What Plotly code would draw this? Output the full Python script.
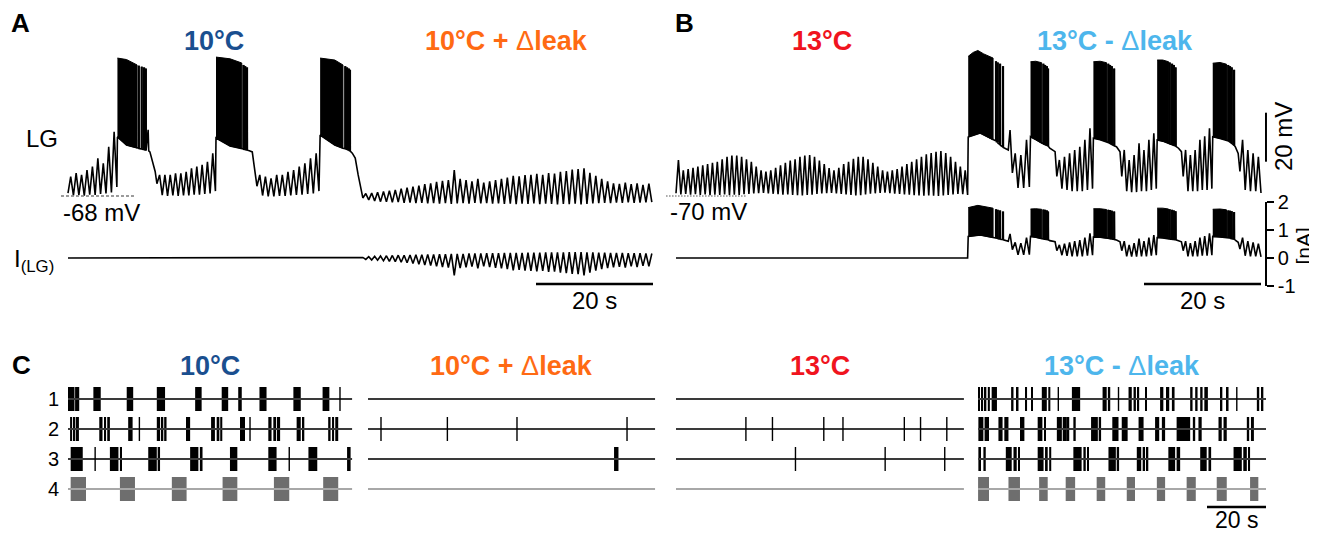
import plotly.graph_objects as go

# ============================ DATA ============================
# ---- Panel A : LG membrane potential (mV) vs time (s) ----
A_CONDITIONS = ["10°C", "10°C + Δleak"]
A_COND_COLORS = ["#1a4f8f", "#ff6a13"]
A_REST_MV = -68
A_OSC_SPANS = [(0.0, 8.35), (15.2, 25.2), (32.3, 42.9), (50.4, 99.8)]
A_OSC_PEAKS = [
    [-60.1, -58.7, -59.4, -57.4, -56.0, -52.6, -54.7, -47.9, -41.8],
    [-59.4, -59.4, -59.4, -58.7, -58.7, -58.1, -56.7, -56.0, -55.3, -54.0, -50.6],
    [-59.4, -60.1, -60.8, -59.4, -59.4, -58.1, -57.4, -56.0, -54.7, -52.6, -50.6],
    [-67.0, -66.8, -66.5, -66.2, -65.8, -65.5, -65.0, -64.6, -64.2, -63.8,
     -63.2, -62.8, -62.2, -61.8, -61.5, -57.4, -61.0, -61.5, -62.0, -61.0,
     -62.5, -62.0, -61.5, -61.0, -60.5, -59.8, -60.0, -59.5, -59.4, -59.0,
     -59.4, -58.6, -58.8, -58.1, -57.8, -57.2, -57.0, -56.7, -58.5, -59.8,
     -61.0, -62.0, -62.8, -63.0, -62.5, -63.2, -62.8, -63.5, -63.0],
]
A_OSC_TROUGHS = [
    [-66.8, -67.8, -67.6, -67.9, -67.5, -67.6, -67.2, -67.0, -66.6, -64.3],
    [-63.0, -67.6, -68.0, -67.8, -68.0, -67.8, -67.8, -67.5, -67.5, -67.2, -67.0, -66.0],
    [-64.0, -67.8, -68.2, -68.2, -68.0, -68.0, -67.8, -67.6, -67.5, -67.2, -67.0, -66.0],
    [-68.8, -69.6, -70.0, -70.3, -70.4, -70.6, -70.5, -70.8, -70.7, -70.9,
     -70.8, -71.0, -70.9, -71.1, -70.9, -71.2, -71.0, -70.9, -71.1, -70.8,
     -71.0, -70.9, -71.1, -71.0, -71.2, -71.1, -71.3, -71.1, -71.2, -71.0,
     -71.3, -71.1, -71.2, -71.4, -71.2, -71.3, -71.1, -71.4, -71.2, -71.0,
     -70.9, -70.8, -70.9, -70.7, -70.8, -70.6, -70.8, -70.7, -70.6, -70.5],
]
# spike-peak envelope of the dense part of each burst (t, mV)
A_BURST_TOP = [
    [(8.45, -11.7), (10.0, -12.3), (11.8, -14.5)],
    [(25.3, -11.3), (27.7, -12.0), (29.7, -13.7)],
    [(43.1, -11.7), (45.6, -12.5), (47.0, -14.5)],
]
# plateau, last single spikes and repolarisation of each burst (t, mV)
A_BURST_BASE = [
    [(8.45, -43.9), (10.0, -47.2), (11.8, -48.4), (12.1, -48.5), (12.1, -14.8), (12.15, -48.6),
     (12.6, -48.8), (12.6, -15.2), (12.65, -48.9), (13.0, -49.0), (13.0, -15.5), (13.05, -49.1),
     (13.3, -49.2), (13.3, -16.0), (13.35, -49.3), (13.7, -41.0), (13.8, -49.6), (14.0, -50.0),
     (14.5, -54.0), (14.9, -58.0)],
    [(25.3, -44.3), (27.7, -47.6), (29.7, -48.6), (30.0, -48.8), (30.0, -14.5), (30.05, -48.9),
     (30.3, -49.0), (30.3, -15.0), (30.35, -49.1), (30.6, -49.2), (30.6, -15.5), (30.65, -49.3),
     (31.0, -49.5), (31.5, -50.0), (31.8, -55.3), (32.1, -60.0)],
    [(43.1, -43.1), (45.6, -47.2), (47.0, -48.5), (47.4, -48.7), (47.4, -15.0), (47.45, -48.8),
     (47.7, -49.0), (47.7, -15.5), (47.75, -49.1), (48.0, -49.3), (48.0, -16.0), (48.05, -49.4),
     (48.2, -49.6), (48.2, -16.5), (48.25, -49.7), (48.6, -50.5), (49.1, -52.5), (49.6, -59.4),
     (50.1, -66.4)],
]
# ---- Panel A : injected current I(LG) (nA) ----
A_I_BASELINE = [(0.0, 0.0), (50.3, 0.0)]
A_I_OSC_LOW = [
    -0.05, -0.07, -0.08, -0.10, -0.12, -0.13, -0.15, -0.17, -0.20, -0.22,
    -0.25, -0.27, -0.30, -0.32, -0.34, -0.62, -0.36, -0.33, -0.31, -0.37,
    -0.30, -0.32, -0.35, -0.37, -0.40, -0.44, -0.42, -0.45, -0.46, -0.48,
    -0.46, -0.50, -0.49, -0.52, -0.54, -0.57, -0.58, -0.62, -0.52, -0.45,
    -0.40, -0.36, -0.33, -0.32, -0.34, -0.30, -0.32, -0.28, -0.30]
A_I_OSC_HIGH = [
    0.02, 0.05, 0.06, 0.07, 0.08, 0.09, 0.10, 0.10, 0.11, 0.12,
    0.12, 0.13, 0.13, 0.14, 0.14, 0.15, 0.15, 0.15, 0.16, 0.16,
    0.16, 0.17, 0.17, 0.17, 0.18, 0.18, 0.18, 0.18, 0.19, 0.19,
    0.19, 0.20, 0.20, 0.20, 0.20, 0.21, 0.21, 0.21, 0.20, 0.20,
    0.19, 0.19, 0.18, 0.18, 0.18, 0.17, 0.17, 0.17, 0.16, 0.16]

# ---- Panel B : LG membrane potential (mV); 13 °C then 13 °C - Δleak ----
B_CONDITIONS = ["13°C", "13°C - Δleak"]
B_COND_COLORS = ["#f0141e", "#4db6ec"]
B_REST_MV = -70
B_OSC_SPANS = [(0.0, 49.85), (57.5, 60.4), (65.1, 71.2), (76.2, 82.1), (86.7, 91.6), (96.4, 100.0)]
B_OSC_PEAKS = [
    [-55.3, -59.5, -59.0, -58.5, -58.0, -57.5, -57.0, -56.5, -56.0, -55.0,
     -54.0, -53.5, -53.5, -54.0, -55.0, -56.0, -58.0, -59.5, -60.0, -59.5,
     -58.5, -57.5, -56.5, -55.5, -55.0, -54.0, -53.5, -53.3, -54.0, -55.5,
     -57.0, -58.6, -59.5, -58.5, -57.0, -56.0, -54.8, -54.0, -54.0, -55.0,
     -56.5, -58.0, -59.5, -60.0, -59.5, -59.0, -58.0, -57.0, -56.0, -55.0,
     -54.0, -53.0, -52.5, -52.0, -51.6, -52.5, -54.0, -56.0, -58.0, -59.5],
    [-52.6, -53.3, -47.1],
    [-55.3, -54.0, -52.6, -51.2, -49.9, -47.1, -42.4],
    [-51.2, -55.3, -53.3, -48.5, -51.2, -47.1, -44.4],
    [-51.2, -53.3, -51.2, -47.1, -45.6, -42.4],
    [-47.1, -51.2, -52.6, -54.0],
]
B_OSC_TROUGHS = [
    [-68.9, -69.4, -69.2, -69.5, -69.3, -69.6, -69.4, -69.7, -69.5, -69.6,
     -69.4, -69.7, -69.5, -69.6, -69.3, -69.2, -69.0, -68.8, -68.7, -68.9,
     -69.1, -69.3, -69.5, -69.4, -69.6, -69.7, -69.8, -69.6, -69.5, -69.2,
     -69.0, -68.8, -68.7, -68.9, -69.2, -69.4, -69.6, -69.8, -69.7, -69.4,
     -69.1, -68.9, -68.7, -68.6, -68.8, -69.0, -69.2, -69.4, -69.5, -69.7,
     -69.8, -69.9, -69.8, -69.9, -70.0, -69.8, -69.6, -69.4, -69.2, -69.3, -69.6],
    [-60.6, -66.7, -66.7, -66.3],
    [-62.0, -67.0, -67.5, -68.0, -68.0, -68.0, -67.5, -67.0],
    [-62.0, -68.0, -68.4, -68.4, -68.0, -68.0, -67.5, -67.0],
    [-62.0, -68.0, -68.0, -68.0, -67.5, -67.5, -67.0],
    [-60.0, -67.5, -68.0, -68.0, -68.8],
]
B_BURST_TOP = [
    [(49.95, -13.0), (50.8, -11.4), (51.6, -10.6), (52.6, -12.0), (54.2, -13.7)],
    [(60.6, -15.2), (61.5, -15.0), (62.5, -15.6)],
    [(71.35, -15.2), (72.5, -15.0), (73.6, -15.6)],
    [(82.25, -14.5), (83.2, -14.5), (84.2, -15.2)],
    [(91.75, -15.8), (93.0, -15.5), (94.1, -16.2)],
]
B_BURST_BASE = [
    [(49.95, -45.9), (52.0, -44.3), (54.2, -47.1), (54.7, -47.5), (54.7, -15.0), (54.75, -47.8),
     (55.0, -48.0), (55.0, -15.5), (55.05, -48.5), (55.4, -49.0), (55.4, -16.0), (55.45, -49.3),
     (55.9, -50.0), (55.9, -17.0), (55.95, -50.2), (56.8, -51.2), (57.1, -43.1)],
    [(60.6, -45.8), (61.5, -47.0), (62.5, -48.5), (62.8, -48.7), (62.8, -16.0), (62.85, -48.8),
     (63.1, -49.0), (63.1, -16.5), (63.15, -49.1), (63.4, -49.3), (63.4, -17.0), (63.45, -49.4),
     (63.6, -49.6), (63.6, -18.0), (63.65, -49.7), (63.9, -50.5), (64.8, -51.9)],
    [(71.35, -46.4), (72.5, -47.0), (73.6, -47.8), (73.9, -48.2), (73.9, -16.0), (73.95, -48.3),
     (74.2, -48.6), (74.2, -16.5), (74.25, -48.7), (74.5, -49.0), (74.5, -17.0), (74.55, -49.1),
     (74.9, -49.5), (74.9, -18.0), (74.95, -49.6), (75.3, -49.9), (75.9, -51.9)],
    [(82.25, -47.1), (83.2, -47.6), (84.2, -48.5), (84.4, -48.7), (84.4, -15.5), (84.45, -48.8),
     (84.8, -49.0), (84.8, -16.0), (84.85, -49.1), (85.1, -49.3), (85.1, -16.5), (85.15, -49.4),
     (85.4, -49.6), (85.4, -17.5), (85.45, -49.7), (85.9, -50.5), (86.4, -51.9)],
    [(91.75, -45.8), (93.0, -46.5), (94.1, -47.1), (94.4, -47.5), (94.4, -16.5), (94.45, -47.6),
     (94.7, -48.0), (94.7, -17.0), (94.75, -48.1), (95.0, -48.5), (95.0, -17.5), (95.05, -48.6),
     (95.4, -49.3), (95.4, -18.5), (95.45, -49.4), (95.6, -49.9), (96.1, -52.6)],
]
# ---- Panel B : injected current I(LG) (nA) ----
B_I_BASELINE = [(0.0, 0.0), (49.85, 0.0)]
B_I_BURST_TOP = [
    [(49.95, 1.80), (51.6, 1.88), (54.2, 1.78)],
    [(60.6, 1.75), (61.5, 1.76), (62.5, 1.74)],
    [(71.35, 1.76), (72.5, 1.76), (73.6, 1.73)],
    [(82.25, 1.78), (83.2, 1.78), (84.2, 1.75)],
    [(91.75, 1.74), (93.0, 1.75), (94.1, 1.72)],
]
B_I_BURST_BASE = [
    [(49.95, 0.77), (52.0, 0.82), (54.2, 0.73), (54.7, 0.71), (54.7, 1.74), (54.75, 0.71),
     (55.0, 0.70), (55.0, 1.72), (55.05, 0.69), (55.4, 0.68), (55.4, 1.70), (55.45, 0.67),
     (55.9, 0.66), (55.9, 1.66), (55.95, 0.65), (56.8, 0.60), (57.1, 0.86)],
    [(60.6, 0.77), (61.5, 0.74), (62.5, 0.69), (62.8, 0.68), (62.8, 1.73), (62.85, 0.68),
     (63.1, 0.67), (63.1, 1.72), (63.15, 0.67), (63.4, 0.66), (63.4, 1.70), (63.45, 0.66),
     (63.6, 0.65), (63.6, 1.66), (63.65, 0.65), (63.9, 0.62), (64.8, 0.58)],
    [(71.35, 0.75), (72.5, 0.74), (73.6, 0.71), (73.9, 0.70), (73.9, 1.72), (73.95, 0.70),
     (74.2, 0.69), (74.2, 1.71), (74.25, 0.69), (74.5, 0.68), (74.5, 1.69), (74.55, 0.68),
     (74.9, 0.66), (74.9, 1.66), (74.95, 0.66), (75.3, 0.64), (75.9, 0.58)],
    [(82.25, 0.73), (83.2, 0.72), (84.2, 0.69), (84.4, 0.68), (84.4, 1.74), (84.45, 0.68),
     (84.8, 0.67), (84.8, 1.72), (84.85, 0.67), (85.1, 0.66), (85.1, 1.70), (85.15, 0.66),
     (85.4, 0.65), (85.4, 1.67), (85.45, 0.65), (85.9, 0.62), (86.4, 0.58)],
    [(91.75, 0.77), (93.0, 0.75), (94.1, 0.73), (94.4, 0.72), (94.4, 1.70), (94.45, 0.72),
     (94.7, 0.71), (94.7, 1.69), (94.75, 0.70), (95.0, 0.69), (95.0, 1.67), (95.05, 0.69),
     (95.4, 0.67), (95.4, 1.64), (95.45, 0.67), (95.6, 0.64), (96.1, 0.56)],
]
B_I_OSC_PEAKS = [
    [0.56, 0.53, 0.73],
    [0.47, 0.51, 0.56, 0.60, 0.64, 0.73, 0.88],
    [0.60, 0.47, 0.53, 0.69, 0.60, 0.73, 0.82],
    [0.60, 0.53, 0.60, 0.73, 0.78, 0.88],
    [0.73, 0.60, 0.56, 0.51],
]
B_I_OSC_TROUGHS = [
    [0.30, 0.11, 0.11, 0.12],
    [0.26, 0.10, 0.08, 0.06, 0.06, 0.06, 0.08, 0.10],
    [0.26, 0.06, 0.05, 0.05, 0.06, 0.06, 0.08, 0.10],
    [0.26, 0.06, 0.06, 0.06, 0.08, 0.08, 0.10],
    [0.32, 0.08, 0.06, 0.06, 0.04],
]
I_TICKS = [-1, 0, 1, 2]
I_TICK_LABELS = ["-1", "0", "1", "2"]

# ---- Panel C : spike rasters of neurons 1-4 (time in s from the start of each recording) ----
C_CONDITIONS = ["10°C", "10°C + Δleak", "13°C", "13°C - Δleak"]
C_COND_COLORS = ["#1a4f8f", "#ff6a13", "#f0141e", "#4db6ec"]
C_ROW_LABELS = ["1", "2", "3", "4"]
C_SEG_T0 = [0.0, 101.7, 206.1, 308.5]
C_SEG_DUR = [96.3, 97.3, 97.6, 97.6]
C_BURSTS_10C = [
    [[0.0, 2.2], [2.4, 3.8], [8.6, 11.1], [19.9, 22.1], [30.1, 32.9], [43.1, 45.3], [52.1, 54.3],
     [57.7, 58.9], [64.9, 67.3], [76.4, 78.9], [86.3, 88.6]],
    [[0.7, 1.4], [1.7, 2.3], [2.6, 3.7], [10.6, 11.7], [12.2, 12.9], [13.3, 14.2], [20.4, 21.9],
     [30.1, 31.2], [31.5, 32.3], [32.6, 33.4], [40.0, 41.4], [48.5, 49.8], [50.4, 51.3], [51.6, 52.3],
     [58.3, 60.0], [67.9, 69.0], [69.6, 70.5], [70.8, 71.9], [77.5, 78.9], [79.5, 80.1], [88.2, 89.0],
     [89.5, 90.2], [90.6, 91.6]],
    [[0.9, 5.0], [14.2, 17.1], [17.6, 18.3], [27.2, 30.1], [30.4, 31.2], [41.4, 44.2], [44.7, 45.6],
     [54.9, 57.4], [67.9, 70.7], [81.5, 84.5], [94.6, 95.8]],
    [[0.9, 6.1], [17.6, 22.7], [35.2, 40.2], [52.4, 57.4], [69.8, 75.0], [86.5, 91.6]],
]
C_SPIKES_10C = [[92.2], [24.2, 61.7], [9.2, 75.0], []]
C_BURSTS_10C_LEAK = [[], [], [[83.4, 84.9]], []]
C_SPIKES_10C_LEAK = [[], [4.4, 26.9, 50.5, 87.8], [], []]
C_BURSTS_13C = [[], [], [], []]
C_SPIKES_13C = [[], [23.7, 32.7, 50.1, 56.6, 77.4, 82.9, 91.8], [40.5, 70.9, 91.1], []]
C_BURSTS_13C_LEAK = [
    [[0.0, 0.6], [1.1, 1.7], [2.2, 2.8], [3.3, 4.0], [4.6, 6.4], [11.2, 12.0], [13.1, 13.7],
     [15.9, 16.6], [18.0, 18.5], [21.6, 23.3], [23.8, 24.5], [31.8, 34.6], [42.2, 43.6], [44.0, 44.8],
     [51.0, 52.1], [52.7, 53.5], [54.1, 54.6], [56.6, 57.2], [61.7, 62.8], [63.7, 64.8], [65.7, 66.6],
     [71.9, 72.7], [73.6, 74.4], [75.3, 76.1], [76.7, 77.9], [82.0, 82.8], [84.3, 84.9], [94.5, 95.3],
     [95.9, 96.7]],
    [[0.1, 1.8], [2.2, 3.7], [6.9, 8.3], [8.9, 10.3], [14.2, 15.7], [20.2, 21.8], [22.5, 22.9],
     [26.7, 28.4], [28.7, 30.1], [30.4, 30.9], [32.3, 33.1], [38.3, 40.6], [40.9, 41.7], [45.5, 47.6],
     [48.7, 50.7], [54.4, 56.1], [60.0, 61.4], [62.3, 63.4], [67.3, 71.9], [72.8, 73.6], [74.7, 75.8],
     [81.5, 82.6], [83.2, 84.3], [91.1, 91.9], [92.5, 93.5]],
    [[0.1, 1.0], [1.8, 2.6], [9.4, 11.4], [12.0, 13.1], [13.7, 14.2], [20.2, 22.2], [22.7, 23.6],
     [24.1, 24.8], [32.3, 35.1], [35.7, 36.5], [37.1, 37.6], [44.2, 46.7], [47.0, 47.8], [53.8, 55.3],
     [55.8, 56.6], [57.2, 57.7], [64.5, 66.8], [67.3, 68.5], [75.3, 77.5], [78.1, 79.0], [86.6, 89.4],
     [89.9, 91.1], [91.6, 92.2]],
    [[0.0, 3.7], [10.3, 14.2], [20.7, 23.6], [29.7, 32.9], [40.2, 43.1], [50.4, 53.2], [60.6, 63.4],
     [70.7, 73.8], [80.9, 84.3], [92.2, 95.0]],
]
C_SPIKES_13C_LEAK = [[27.2, 47.6, 87.7], [], [], []]
C_SEG_BURSTS = [C_BURSTS_10C, C_BURSTS_10C_LEAK, C_BURSTS_13C, C_BURSTS_13C_LEAK]
C_SEG_SPIKES = [C_SPIKES_10C, C_SPIKES_10C_LEAK, C_SPIKES_13C, C_SPIKES_13C_LEAK]

SCALE_T = 20      # s
SCALE_MV = 20     # mV

# ============================ LAYOUT HELPERS ============================
PAGE_W, PAGE_H = 1317, 535
BODY = 8                                  # default page margin around the figure
W, H = PAGE_W - BODY, PAGE_H - BODY
FONT = "Liberation Sans, Arial, Helvetica, sans-serif"


def fx(px):
    return (px - BODY) / W


def fy(py):
    return 1 - (py - BODY) / H


PX_S_AB = 5.85          # px per second in A and B
PX_MV = 2.45            # px per mV
PX_NA = 28.0            # px per nA
PX_S_C = 2.95           # px per second in C
A_T0_PX, B_T0_PX, C_T0_PX = 68, 676, 68
V_REST_PX = 196
ROW1_PX, ROW_STEP_PX = 399, 30
HALF = 0.4               # half height of a raster mark (row units)


def zigzag(span, mids, ends):
    t0, t1 = span
    n = len(mids)
    dt = (t1 - t0) / (2 * n)
    ts, vs = [], []
    for k in range(n):
        ts += [t0 + 2 * k * dt, t0 + (2 * k + 1) * dt]
        vs += [ends[k], mids[k]]
    ts.append(t1)
    vs.append(ends[n])
    return ts, vs


def extend(ts, vs, pairs):
    for t, v in pairs:
        ts.append(t)
        vs.append(v)


def burst_polys(tops, bases):
    xs, ys = [], []
    for top, base in zip(tops, bases):
        bot = [p for p in base if p[0] <= top[-1][0]][::-1]
        xs += [p[0] for p in top] + [p[0] for p in bot] + [None]
        ys += [p[1] for p in top] + [p[1] for p in bot] + [None]
    return xs, ys


def late_spikes(bases):
    xs, ys = [], []
    for base in bases:
        for (t1, v1), (t2, v2) in zip(base, base[1:]):
            if t1 == t2:
                xs += [t1, t2, None]
                ys += [v1, v2, None]
    return xs, ys


fig = go.Figure()
LINE = dict(color="black", width=1.6)
SPIKE = dict(color="black", width=2.2)
POLY = dict(color="black", width=1)


def add_cell(t, v, tops, bases, xa, ya):
    fig.add_trace(go.Scatter(x=t, y=v, mode="lines", line=LINE, xaxis=xa, yaxis=ya))
    if tops:
        px_, py_ = burst_polys(tops, bases)
        fig.add_trace(go.Scatter(x=px_, y=py_, mode="lines", fill="toself", fillcolor="black",
                                 line=POLY, xaxis=xa, yaxis=ya))
        sx, sy = late_spikes(bases)
        fig.add_trace(go.Scatter(x=sx, y=sy, mode="lines", line=SPIKE, xaxis=xa, yaxis=ya))


# ---- A voltage ----
ta, va = [], []
for i, span in enumerate(A_OSC_SPANS):
    zt, zv = zigzag(span, A_OSC_PEAKS[i], A_OSC_TROUGHS[i])
    ta += zt
    va += zv
    if i < len(A_BURST_BASE):
        extend(ta, va, A_BURST_BASE[i])
add_cell(ta, va, A_BURST_TOP, A_BURST_BASE, "x", "y")
# ---- A current ----
ti, vi = [], []
extend(ti, vi, A_I_BASELINE)
zt, zv = zigzag(A_OSC_SPANS[3], A_I_OSC_LOW, A_I_OSC_HIGH)
ti += zt
vi += zv
add_cell(ti, vi, None, None, "x", "y2")

# ---- B voltage ----
tb, vb = [], []
for i, span in enumerate(B_OSC_SPANS):
    zt, zv = zigzag(span, B_OSC_PEAKS[i], B_OSC_TROUGHS[i])
    tb += zt
    vb += zv
    if i < len(B_BURST_BASE):
        extend(tb, vb, B_BURST_BASE[i])
add_cell(tb, vb, B_BURST_TOP, B_BURST_BASE, "x2", "y3")
# ---- B current ----
tj, vj = [], []
extend(tj, vj, B_I_BASELINE)
for i in range(len(B_I_BURST_BASE)):
    extend(tj, vj, B_I_BURST_BASE[i])
    zt, zv = zigzag(B_OSC_SPANS[i + 1], B_I_OSC_PEAKS[i], B_I_OSC_TROUGHS[i])
    tj += zt
    vj += zv
add_cell(tj, vj, B_I_BURST_TOP, B_I_BURST_BASE, "x2", "y4")

# ---- C rasters ----
for r in range(4):
    row = r + 1
    lx, ly = [], []
    for s in range(4):
        lx += [C_SEG_T0[s], C_SEG_T0[s] + C_SEG_DUR[s], None]
        ly += [row, row, None]
    fig.add_trace(go.Scatter(x=lx, y=ly, mode="lines",
                             line=dict(color="#a8a8a8" if row == 4 else "#3a3a3a", width=1.8),
                             xaxis="x3", yaxis="y5"))
for r in range(4):
    row = r + 1
    cx, cw = [], []
    sx, sy = [], []
    for s in range(4):
        for a, b in C_SEG_BURSTS[s][r]:
            cx.append(C_SEG_T0[s] + (a + b) / 2)
            cw.append(b - a)
        for t in C_SEG_SPIKES[s][r]:
            sx += [C_SEG_T0[s] + t, C_SEG_T0[s] + t, None]
            sy += [row - HALF, row + HALF, None]
    col = "#6e6e6e" if row == 4 else "black"
    if cx:
        fig.add_trace(go.Bar(x=cx, y=[2 * HALF] * len(cx), base=[row - HALF] * len(cx), width=cw,
                             marker=dict(color=col, line=dict(width=0)), xaxis="x3", yaxis="y5"))
    if sx:
        fig.add_trace(go.Scatter(x=sx, y=sy, mode="lines", line=dict(color=col, width=1.4),
                                 xaxis="x3", yaxis="y5"))

# ============================ AXES ============================
hidden = dict(visible=False, showgrid=False, zeroline=False, fixedrange=True, automargin=False)
a_xr = [(55 - A_T0_PX) / PX_S_AB, (660 - A_T0_PX) / PX_S_AB]
b_xr = [(660 - B_T0_PX) / PX_S_AB, (1300 - B_T0_PX) / PX_S_AB]
c_xr = [(60 - C_T0_PX) / PX_S_C, (1300 - C_T0_PX) / PX_S_C]
a_yr = [A_REST_MV + (V_REST_PX - 215) / PX_MV, A_REST_MV + (V_REST_PX - 30) / PX_MV]
b_yr = [B_REST_MV + (V_REST_PX - 215) / PX_MV, B_REST_MV + (V_REST_PX - 30) / PX_MV]
i_dom = [fy(258 + PX_NA), fy(258 - 2 * PX_NA)]
c_yr = [1 + (PAGE_H - ROW1_PX) / ROW_STEP_PX, 1 + (369 - ROW1_PX) / ROW_STEP_PX]

fig.update_layout(
    template="none",
    width=W, height=H, margin=dict(l=0, r=0, t=0, b=0, pad=0, autoexpand=False),
    paper_bgcolor="white", plot_bgcolor="rgba(0,0,0,0)",
    showlegend=False, barmode="overlay",
    font=dict(family=FONT, color="black"),
    xaxis=dict(domain=[fx(55), fx(660)], range=a_xr, anchor="y", **hidden),
    yaxis=dict(domain=[fy(215), fy(30)], range=a_yr, anchor="x", **hidden),
    yaxis2=dict(domain=i_dom, range=[-1, 2], anchor="x", **hidden),
    xaxis2=dict(domain=[fx(660), fx(1300)], range=b_xr, anchor="y3", **hidden),
    yaxis3=dict(domain=[fy(215), fy(30)], range=b_yr, anchor="x2", **hidden),
    yaxis4=dict(domain=i_dom, range=[-1, 2], anchor="free", position=fx(1266), side="right",
                showgrid=False, zeroline=False, showline=True, linecolor="black", linewidth=1.5,
                ticks="outside", ticklen=7, tickwidth=1.5, tickcolor="black",
                tickvals=I_TICKS, ticktext=I_TICK_LABELS, tickfont=dict(size=20, family=FONT),
                fixedrange=True, automargin=False),
    xaxis3=dict(domain=[fx(60), fx(1300)], range=c_xr, anchor="y5", **hidden),
    yaxis5=dict(domain=[0, fy(369)], range=c_yr, anchor="x3", showgrid=False, zeroline=False,
                showline=False, ticks="", tickvals=[1, 2, 3, 4], ticktext=C_ROW_LABELS,
                tickfont=dict(size=20, family=FONT), fixedrange=True, automargin=False),
)

# ============================ SCALE BARS / REFERENCE LINES ============================
shapes = [
    dict(type="line", xref="x", yref="y2", x0=100 - SCALE_T, x1=100, y0=-0.93, y1=-0.93,
         line=dict(color="black", width=2.5)),
    dict(type="line", xref="x2", yref="y4", x0=100 - SCALE_T, x1=100, y0=-0.93, y1=-0.93,
         line=dict(color="black", width=2.5)),
    dict(type="line", xref="x3", yref="y5", x0=C_SEG_T0[3] + C_SEG_DUR[3] - SCALE_T,
         x1=C_SEG_T0[3] + C_SEG_DUR[3], y0=4.6, y1=4.6, line=dict(color="black", width=2.5)),
    dict(type="line", xref="x2", yref="y3", x0=100.85, x1=100.85, y0=-56, y1=-56 + SCALE_MV,
         line=dict(color="black", width=2)),
    dict(type="line", xref="x", yref="y", x0=-1.2, x1=11.3, y0=A_REST_MV, y1=A_REST_MV,
         line=dict(color="#7a7a7a", width=1.3, dash="3px,2px")),
    dict(type="line", xref="x2", yref="y3", x0=-1.7, x1=12.0, y0=B_REST_MV, y1=B_REST_MV,
         line=dict(color="#8a8a8a", width=1.3, dash="1.5px,1.5px")),
]
fig.update_layout(shapes=shapes)

# ============================ TEXT ============================
ann = []


def title_text(s):
    return "<b>" + s.replace("Δ", "</b>Δ<b>") + "</b>"


def add_text(text, x, y, size, xref="paper", xanchor="center", angle=0, color="black"):
    ann.append(dict(text=text, x=x, y=fy(y), xref=xref, yref="paper", xanchor=xanchor,
                    yanchor="middle", showarrow=False, textangle=angle,
                    font=dict(size=size, family=FONT, color=color)))


add_text("<b>A</b>", fx(20), 23, 26)
add_text("<b>B</b>", fx(684), 23, 26)
add_text("<b>C</b>", fx(21), 365, 26)
for k, (name, col) in enumerate(zip(A_CONDITIONS, A_COND_COLORS)):
    add_text(title_text(name), 25 + 50 * k, 41, 27, xref="x", color=col)
for k, (name, col) in enumerate(zip(B_CONDITIONS, B_COND_COLORS)):
    add_text(title_text(name), 25 + 50 * k, 41, 27, xref="x2", color=col)
for s, (name, col) in enumerate(zip(C_CONDITIONS, C_COND_COLORS)):
    add_text(title_text(name), C_SEG_T0[s] + C_SEG_DUR[s] / 2, 366, 27, xref="x3", color=col)
add_text("LG", fx(42), 138, 24)
add_text("I<sub>(LG)</sub>", fx(12), 260, 24, xanchor="left")
add_text(f"{A_REST_MV} mV", fx(61), 212, 24, xanchor="left")
add_text(f"{B_REST_MV} mV", fx(668), 211, 24, xanchor="left")
add_text(f"{SCALE_T} s", 100 - SCALE_T / 2, 300, 24, xref="x")
add_text(f"{SCALE_T} s", 100 - SCALE_T / 2, 300, 24, xref="x2")
add_text(f"{SCALE_T} s", C_SEG_T0[3] + C_SEG_DUR[3] - SCALE_T / 2, 520, 23, xref="x3")
add_text(f"{SCALE_MV} mV", fx(1284), 137, 24, angle=-90)
add_text("[nA]", fx(1316), 246, 21, xanchor="right", angle=-90)
fig.update_layout(annotations=ann)

fig.write_html("out.html")
